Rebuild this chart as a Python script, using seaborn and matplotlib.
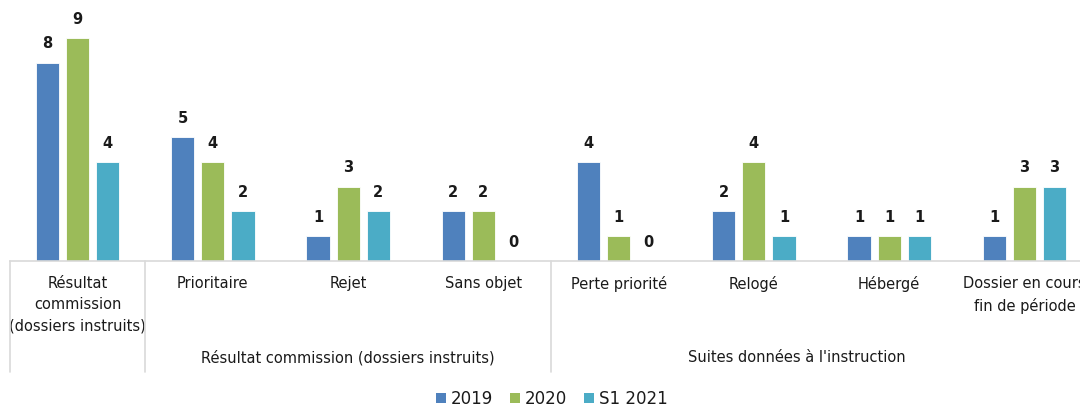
import matplotlib
matplotlib.use("Agg")
import matplotlib.pyplot as plt
import matplotlib.transforms as mtransforms
from matplotlib.patches import Patch
import seaborn as sns
import pandas as pd

categories = [
    "Résultat\ncommission\n(dossiers instruits)",
    "Prioritaire",
    "Rejet",
    "Sans objet",
    "Perte priorité",
    "Relogé",
    "Hébergé",
    "Dossier en cours\nfin de période",
]
series = ["2019", "2020", "S1 2021"]
values_2019 = [8, 5, 1, 2, 4, 2, 1, 1]
values_2020 = [9, 4, 3, 2, 1, 4, 1, 3]
values_s1_2021 = [4, 2, 2, 0, 0, 1, 1, 3]
groups = [
    ("Résultat commission (dossiers instruits)", 1, 3),
    ("Suites données à l'instruction", 4, 7),
]
colors = ["#4F81BD", "#9BBB59", "#4BACC6"]

rows = []
for name, vals in zip(series, [values_2019, values_2020, values_s1_2021]):
    for cat, v in zip(categories, vals):
        rows.append({"categorie": cat, "serie": name, "valeur": v})
df = pd.DataFrame(rows)

sns.set_theme(style="white")
plt.rcParams["font.family"] = ["DejaVu Sans"]
text_color = "#1a1a1a"

fig = plt.figure(figsize=(10.8, 4.08), dpi=100)
ax = fig.add_axes([10 / 1080, 147 / 408, 1082 / 1080, 261 / 408])

sns.barplot(
    data=df, x="categorie", y="valeur", hue="serie", order=categories,
    hue_order=series, palette=colors, saturation=1, width=0.667, gap=0.23,
    edgecolor="white", linewidth=0.6, legend=False, ax=ax,
)

for cont in ax.containers:
    ax.bar_label(cont, padding=8, fontsize=10.5, fontweight="bold", color=text_color)

ax.set_xlim(-0.5, 7.5)
ax.set_ylim(0, 10.52)
ax.set_xlabel("")
ax.set_ylabel("")
ax.set_yticks([])
ax.tick_params(axis="x", length=0, pad=11, labelsize=10.5, labelcolor=text_color)
for lab in ax.get_xticklabels():
    lab.set_linespacing(1.5)
for side in ["top", "right", "left"]:
    ax.spines[side].set_visible(False)
ax.spines["bottom"].set_color("#D9D9D9")
ax.spines["bottom"].set_linewidth(1.2)

trans = mtransforms.blended_transform_factory(ax.transData, ax.transAxes)
for xb in [-0.5, 0.5, 3.5]:
    ax.plot([xb, xb], [0, -0.425], transform=trans, color="#D9D9D9",
            lw=1.2, clip_on=False)

group_x = {0: 2.0, 1: 5.32}
for i, (label, a, b) in enumerate(groups):
    ax.text(group_x[i], -0.37, label, transform=trans, ha="center", va="center",
            fontsize=10.5, color=text_color)

handles = [Patch(facecolor=c, edgecolor="none") for c in colors]
fig.legend(handles, series, loc="center", bbox_to_anchor=(0.511, 0.022),
           ncol=3, frameon=False, fontsize=12, handlelength=0.6,
           handleheight=0.6, handletextpad=0.3, columnspacing=1.0,
           labelcolor=text_color)

fig.savefig("out.png", dpi=100)
